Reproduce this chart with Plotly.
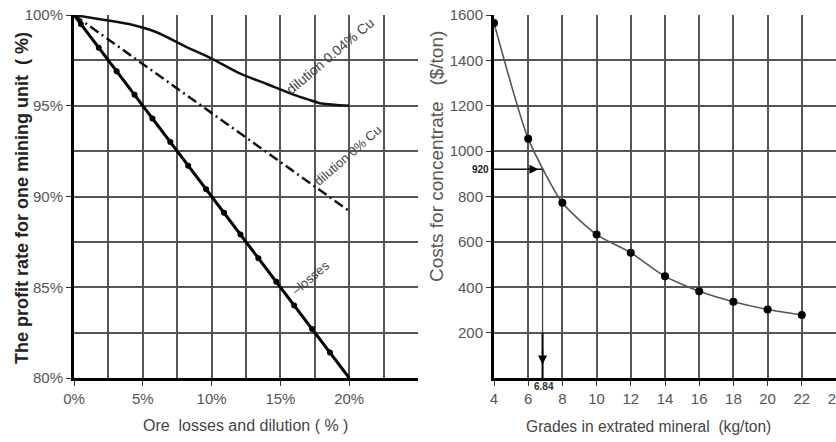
import plotly.graph_objects as go
from plotly.subplots import make_subplots

# ---------------- data: left panel ----------------
losses_x = [0, 20]
losses_y = [100, 80]
losses_mark_x = [0.5, 1.8, 3.1, 4.4, 5.7, 7.0, 8.3, 9.6, 10.9, 12.1, 13.4, 14.7, 16.0, 17.3, 18.6]
losses_mark_y = [99.5, 98.2, 96.9, 95.6, 94.3, 93.0, 91.7, 90.4, 89.1, 87.9, 86.6, 85.3, 84.0, 82.7, 81.4]
dil0_x = [0, 20]
dil0_y = [100, 89.2]
dil004_x = [0, 2, 4, 6, 8, 10, 12, 14, 16, 17, 18, 20]
dil004_y = [100, 99.75, 99.5, 99.05, 98.3, 97.6, 96.8, 96.2, 95.6, 95.35, 95.12, 95.0]
left_ticks = [80, 85, 90, 95, 100]
left_ticktext = ["80%", "85%", "90%", "95%", "100%"]
left_xticks = [0, 5, 10, 15, 20]
left_xticktext = ["0%", "5%", "10%", "15%", "20%"]

# ---------------- data: right panel ----------------
grade = [4, 6, 8, 10, 12, 14, 16, 18, 20, 22]
cost = [1565, 1055, 772, 632, 552, 448, 382, 336, 302, 278]
right_xticks = [4, 6, 8, 10, 12, 14, 16, 18, 20, 22, 24]
right_yticks = [200, 400, 600, 800, 1000, 1200, 1400, 1600]
marked_grade = 6.84
marked_cost = 920

NARROW = "Liberation Sans, Arial, sans-serif"
SANS = "Liberation Sans, Arial, sans-serif"
GRID = "#555555"
TICKC = "#555555"

fig = make_subplots(rows=1, cols=2, horizontal_spacing=0.0)

# left traces
fig.add_trace(go.Scatter(x=dil004_x, y=dil004_y, mode="lines",
                         line=dict(color="#111111", width=2.5, shape="spline", smoothing=0.8),
                         showlegend=False), row=1, col=1)
fig.add_trace(go.Scatter(x=dil0_x, y=dil0_y, mode="lines",
                         line=dict(color="#111111", width=2.5, dash="10px,4px,2px,4px"),
                         showlegend=False), row=1, col=1)
fig.add_trace(go.Scatter(x=losses_x, y=losses_y, mode="lines",
                         line=dict(color="#000000", width=3), showlegend=False), row=1, col=1)
fig.add_trace(go.Scatter(x=losses_mark_x, y=losses_mark_y, mode="markers",
                         marker=dict(color="#000000", size=6), showlegend=False), row=1, col=1)

# right traces
fig.add_trace(go.Scatter(x=grade, y=cost, mode="lines",
                         line=dict(color="#555555", width=1.6, shape="spline", smoothing=0.6),
                         showlegend=False), row=1, col=2)
fig.add_trace(go.Scatter(x=grade, y=cost, mode="markers",
                         marker=dict(color="#000000", size=8), showlegend=False), row=1, col=2)

W, H = 836, 442
top, bottom = 15, 378
fig.update_layout(
    width=W, height=H,
    margin=dict(l=0, r=0, t=top, b=H - bottom, autoexpand=False),
    paper_bgcolor="white", plot_bgcolor="white",
    showlegend=False,
)

common_axis = dict(showline=True, linecolor="#000000", linewidth=3, automargin=False,
                   gridcolor=GRID, gridwidth=1.5, zeroline=False,
                   ticks="outside", ticklen=5, tickcolor="#333333", tickwidth=1,
                   ticklabeloverflow="allow",
                   tickfont=dict(family=NARROW, size=15, color=TICKC))

fig.update_xaxes(common_axis, row=1, col=1, domain=[74 / W, 418 / W], range=[0, 25],
                 tickmode="array", tickvals=left_xticks, ticktext=left_xticktext,
                 minor=dict(dtick=2.5, tick0=0, showgrid=True, gridcolor=GRID, gridwidth=1.5, ticks=""))
fig.update_yaxes(common_axis, row=1, col=1, range=[80, 100],
                 tickmode="array", tickvals=left_ticks, ticktext=left_ticktext,
                 minor=dict(dtick=2.5, tick0=80, showgrid=True, gridcolor=GRID, gridwidth=1.5, ticks=""))
fig.update_xaxes(common_axis, row=1, col=2, domain=[494 / W, 1.0], range=[4, 24],
                 tickmode="array", tickvals=right_xticks)
fig.update_yaxes(common_axis, row=1, col=2, range=[0, 1600],
                 tickmode="array", tickvals=right_yticks)

# marked point lines on right panel
fig.add_shape(type="line", xref="x2", yref="y2", x0=4, x1=marked_grade, y0=marked_cost, y1=marked_cost,
              line=dict(color="#111111", width=1.5))
fig.add_shape(type="line", xref="x2", yref="y2", x0=marked_grade, x1=marked_grade, y0=200, y1=marked_cost,
              line=dict(color="#444444", width=1.3))
fig.add_shape(type="line", xref="x2", yref="y2", x0=marked_grade, x1=marked_grade, y0=0, y1=200,
              line=dict(color="#000000", width=2))
fig.add_annotation(x=6.6, y=marked_cost, ax=5.9, ay=marked_cost, xref="x2", yref="y2",
                   axref="x2", ayref="y2", text="", showarrow=True, arrowhead=2,
                   arrowsize=1.2, arrowwidth=1.5, arrowcolor="#000000")
fig.add_annotation(x=marked_grade, y=60, ax=marked_grade, ay=130, xref="x2", yref="y2",
                   axref="x2", ayref="y2", text="", showarrow=True, arrowhead=2,
                   arrowsize=1.2, arrowwidth=1.5, arrowcolor="#000000")

def py(p):
    return (bottom - p) / (bottom - top)

C = dict(xanchor="center", yanchor="middle", showarrow=False)

# small bold labels
fig.add_annotation(x=480 / W, y=marked_cost, xref="paper", yref="y2", text="<b>920</b>",
                   font=dict(family=NARROW, size=10, color="#222222"), **C)
fig.add_annotation(x=marked_grade + 0.1, y=py(387), xref="x2", yref="paper", text="<b>6.84</b>",
                   font=dict(family=NARROW, size=10, color="#333333"), **C)

# curve labels on left panel
lab_font = dict(family=NARROW, size=14, color="#444444")
fig.add_annotation(x=18.6, y=97.75, xref="x", yref="y", text="dilution 0.04% Cu",
                   textangle=-40, font=lab_font, **C)
fig.add_annotation(x=19.9, y=92.25, xref="x", yref="y", text="dilution 0% Cu",
                   textangle=-41, font=dict(family=NARROW, size=13, color="#444444"), **C)
fig.add_annotation(x=17.2, y=85.55, xref="x", yref="y", text="‒losses",
                   textangle=-40, font=dict(family=NARROW, size=13, color="#444444"), **C)

# axis titles
fig.add_annotation(x=22 / W, y=py(198), xref="paper", yref="paper",
                   text="<b>The profit rate for one mining unit  ( %)</b>", textangle=-90,
                   font=dict(family=SANS, size=18, color="#222222"), **C)
fig.add_annotation(x=245 / W, y=py(425), xref="paper", yref="paper",
                   text="Ore  losses and dilution ( % )",
                   font=dict(family=NARROW, size=16, color="#444444"), **C)
fig.add_annotation(x=437 / W, y=py(157), xref="paper", yref="paper",
                   text="Costs for concentrate   ($/ton)", textangle=-90,
                   font=dict(family=SANS, size=19, color="#555555"), **C)
fig.add_annotation(x=648 / W, y=py(427), xref="paper", yref="paper",
                   text="Grades in extrated mineral  (kg/ton)",
                   font=dict(family=NARROW, size=15.6, color="#444444"), **C)

fig.write_html("out.html", config={"displayModeBar": False},
               post_script="document.body.style.margin='0';")
